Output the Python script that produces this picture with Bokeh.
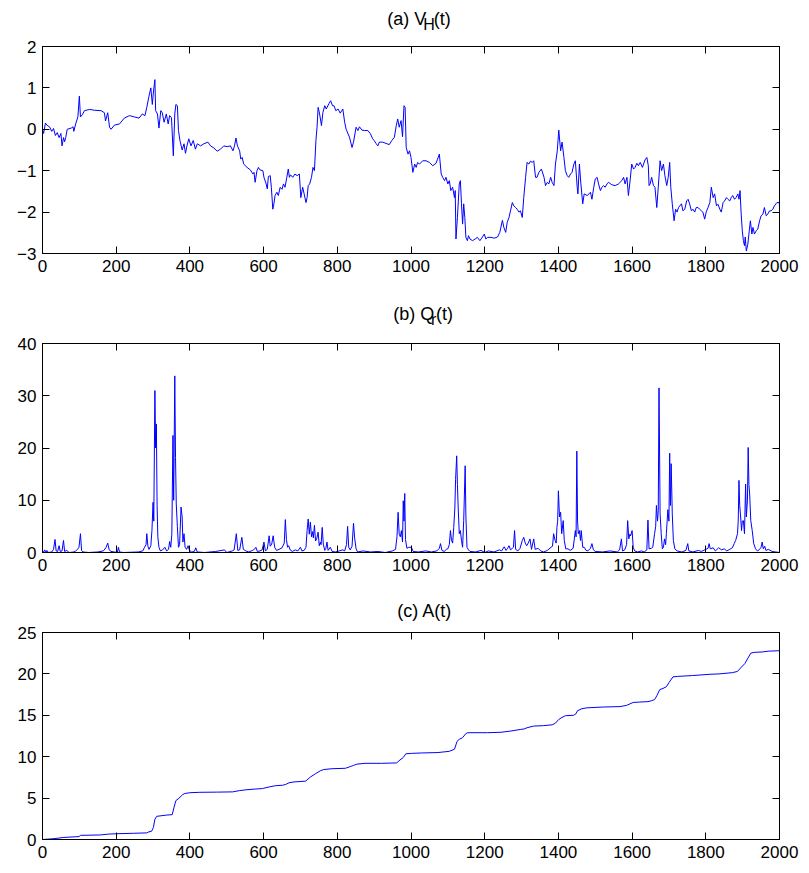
from bokeh.plotting import figure
from bokeh.layouts import column
from bokeh.models import Range1d, LinearAxis, FixedTicker, CustomJSTickFormatter
from bokeh.core.properties import value
from bokeh.embed import file_html
from bokeh.resources import INLINE

# ---------------- data ----------------
X_TICKS = [0, 200, 400, 600, 800, 1000, 1200, 1400, 1600, 1800, 2000]

VH_TICKS = [-3, -2, -1, 0, 1, 2]
QR_TICKS = [0, 10, 20, 30, 40]
A_TICKS = [0, 5, 10, 15, 20, 25]

VH_T = [
    0, 3, 8, 12, 20, 25, 30, 35, 40, 45,
    50, 53, 57, 60, 63, 67, 78, 83, 85, 90,
    96, 100, 103, 108, 114, 128, 141, 159, 168, 171,
    177, 182, 186, 195, 209, 222, 236, 249, 262, 271,
    278, 283, 289, 294, 298, 301, 305, 307, 312, 316,
    321, 325, 330, 336, 341, 345, 350, 355, 359, 362,
    366, 369, 373, 379, 384, 388, 392, 397, 403, 409,
    415, 420, 429, 438, 449, 456, 465, 474, 483, 492,
    501, 510, 517, 521, 525, 529, 535, 538, 542, 546,
    555, 564, 571, 574, 577, 582, 586, 590, 598, 601,
    607, 610, 613, 618, 621, 625, 628, 631, 636, 640,
    645, 650, 654, 658, 663, 667, 670, 673, 679, 685,
    691, 697, 701, 706, 710, 715, 718, 721, 725, 730,
    734, 738, 742, 745, 748, 752, 757, 761, 766, 770,
    778, 782, 787, 791, 796, 802, 808, 815, 820, 824,
    833, 840, 844, 851, 856, 860, 867, 874, 883, 890,
    896, 900, 905, 910, 914, 923, 932, 941, 948, 955,
    960, 964, 968, 973, 977, 981, 984, 987, 992, 996,
    1000, 1005, 1010, 1014, 1018, 1023, 1032, 1041, 1050, 1059,
    1068, 1072, 1077, 1082, 1086, 1091, 1095, 1100, 1104, 1108,
    1113, 1118, 1120, 1122, 1126, 1131, 1134, 1137, 1140, 1143,
    1146, 1149, 1153, 1156, 1160, 1167, 1174, 1180, 1187, 1194,
    1199, 1203, 1208, 1217, 1226, 1235, 1241, 1248, 1252, 1257,
    1261, 1266, 1270, 1275, 1279, 1284, 1288, 1293, 1297, 1302,
    1306, 1311, 1315, 1320, 1324, 1329, 1333, 1338, 1342, 1347,
    1354, 1361, 1365, 1370, 1374, 1379, 1383, 1388, 1392, 1397,
    1401, 1406, 1410, 1415, 1419, 1424, 1428, 1433, 1437, 1442,
    1446, 1451, 1453, 1457, 1461, 1466, 1470, 1478, 1483, 1487,
    1491, 1496, 1500, 1505, 1509, 1514, 1518, 1523, 1527, 1532,
    1536, 1545, 1554, 1563, 1572, 1577, 1581, 1586, 1590, 1595,
    1599, 1604, 1608, 1613, 1617, 1622, 1628, 1635, 1640, 1644,
    1646, 1649, 1653, 1658, 1662, 1667, 1671, 1676, 1680, 1685,
    1689, 1694, 1698, 1702, 1705, 1709, 1714, 1718, 1722, 1726,
    1734, 1738, 1743, 1748, 1752, 1756, 1761, 1765, 1770, 1774,
    1779, 1783, 1788, 1792, 1797, 1801, 1806, 1811, 1815, 1820,
    1824, 1829, 1833, 1838, 1842, 1847, 1851, 1856, 1860, 1865,
    1869, 1873, 1878, 1882, 1887, 1890, 1893, 1896, 1899, 1902,
    1905, 1907, 1910, 1914, 1918, 1921, 1925, 1928, 1932, 1937,
    1941, 1946, 1950, 1955, 1959, 1964, 1968, 1973, 1977, 1982,
    1986, 1993, 1999, 2000,
]
VH_V = [
    0.0, -0.1, 0.15, 0.1, 0.05, -0.05, 0.02, -0.15, -0.08, -0.2,
    -0.1, -0.4, -0.2, -0.3, -0.2, 0.0, 0.03, 0.06, -0.05, 0.13,
    0.3, 0.8, 0.3, 0.35, 0.45, 0.48, 0.46, 0.45, 0.4, 0.2,
    0.4, 0.05, 0.0, 0.1, 0.13, 0.27, 0.33, 0.3, 0.27, 0.37,
    0.33, 0.53, 0.8, 1.0, 0.6, 0.9, 1.2, 0.45, 0.37, 0.03,
    0.45, 0.4, 0.17, 0.37, 0.13, 0.33, 0.28, -0.64, 0.37, 0.6,
    0.57, -0.03, -0.27, -0.5, -0.35, -0.58, -0.4, -0.23, -0.4, -0.27,
    -0.48, -0.35, -0.4, -0.35, -0.31, -0.4, -0.45, -0.53, -0.48, -0.4,
    -0.42, -0.4, -0.52, -0.4, -0.21, -0.4, -0.52, -0.72, -0.68, -0.84,
    -0.92, -0.98, -1.08, -1.04, -1.28, -1.0, -0.92, -0.98, -1.0, -1.16,
    -1.32, -1.44, -1.14, -1.12, -1.4, -1.93, -1.8, -1.6, -1.52, -1.6,
    -1.4, -1.45, -1.32, -1.4, -1.16, -0.96, -1.16, -1.1, -1.16, -1.08,
    -1.12, -1.08, -1.65, -1.4, -1.56, -1.77, -1.65, -1.36, -1.32, -1.16,
    -0.92, -1.0, -0.27, 0.05, 0.53, 0.37, 0.09, 0.41, 0.57, 0.49,
    0.63, 0.69, 0.57, 0.57, 0.45, 0.49, 0.39, 0.49, 0.17, 0.0,
    -0.19, -0.44, -0.31, 0.05, -0.03, 0.06, -0.02, -0.03, -0.03, -0.11,
    -0.23, -0.27, -0.34, -0.4, -0.31, -0.31, -0.34, -0.37, -0.27, -0.19,
    0.09, 0.25, 0.05, 0.21, -0.18, 0.57, 0.53, -0.44, -0.6, -0.52,
    -0.68, -1.04, -0.84, -0.92, -0.8, -0.84, -0.76, -0.76, -0.8, -0.88,
    -0.82, -0.72, -0.6, -1.08, -1.16, -1.24, -1.16, -1.32, -1.24, -1.48,
    -1.4, -1.65, -1.48, -2.65, -2.13, -1.32, -1.24, -1.8, -2.29, -1.8,
    -2.13, -2.61, -2.69, -2.57, -2.65, -2.69, -2.65, -2.61, -2.69, -2.6,
    -2.53, -2.65, -2.61, -2.61, -2.63, -2.6, -2.49, -2.2, -2.37, -2.49,
    -2.25, -2.13, -1.97, -1.77, -1.85, -1.89, -1.93, -2.0, -1.97, -2.13,
    -1.65, -1.16, -0.8, -0.84, -0.77, -0.8, -0.76, -1.16, -1.16, -1.04,
    -0.96, -1.16, -1.36, -1.28, -1.32, -1.16, -1.28, -1.36, -0.84, -0.52,
    -0.02, -0.52, -0.31, -0.68, -1.0, -1.12, -1.16, -1.08, -1.04, -0.84,
    -0.76, -1.4, -1.56, -0.84, -1.32, -1.8, -1.56, -1.6, -1.56, -1.52,
    -1.69, -1.4, -1.2, -1.16, -1.32, -1.48, -1.4, -1.36, -1.4, -1.32,
    -1.28, -1.34, -1.36, -1.32, -1.24, -1.16, -1.32, -1.16, -1.6, -1.2,
    -0.84, -0.96, -0.92, -0.82, -0.88, -0.8, -0.92, -0.74, -0.68, -0.88,
    -1.36, -1.32, -1.16, -1.36, -1.4, -1.89, -1.4, -0.76, -1.0, -0.84,
    -1.12, -1.36, -1.16, -0.8, -1.4, -1.8, -2.21, -1.93, -2.0, -1.89,
    -1.8, -1.97, -1.93, -1.73, -1.69, -1.8, -1.97, -1.93, -2.0, -1.89,
    -1.89, -1.93, -1.97, -2.0, -2.17, -2.0, -1.89, -1.77, -1.4, -1.65,
    -1.56, -1.85, -1.81, -1.93, -2.0, -1.77, -1.73, -1.65, -1.69, -1.73,
    -1.65, -1.6, -1.69, -1.65, -1.56, -1.69, -1.48, -2.05, -2.45, -2.69,
    -2.81, -2.6, -2.94, -2.78, -2.45, -2.21, -2.53, -2.37, -2.53, -2.45,
    -2.41, -2.21, -2.09, -2.05, -1.89, -2.09, -2.05, -1.97, -1.97, -1.93,
    -1.85, -1.77, -1.77, -1.85,
]

QR_T = [
    0, 3, 6, 9, 12, 16, 25, 30, 34, 37,
    41, 45, 48, 53, 57, 60, 66, 72, 85, 90,
    95, 99, 103, 106, 110, 125, 150, 165, 172, 177,
    181, 186, 195, 203, 206, 209, 220, 260, 272, 277,
    281, 283, 286, 289, 294, 297, 300, 302, 305, 307,
    309, 311, 313, 316, 320, 326, 332, 337, 342, 345,
    348, 351, 354, 356, 359, 361, 363, 366, 369, 372,
    376, 379, 381, 384, 387, 391, 395, 399, 405, 412,
    416, 420, 440, 470, 494, 500, 515, 520, 526, 530,
    535, 541, 545, 552, 560, 570, 575, 579, 583, 590,
    596, 601, 605, 610, 615, 618, 622, 626, 630, 635,
    642, 650, 656, 659, 662, 665, 668, 672, 678, 686,
    693, 700, 704, 710, 715, 718, 721, 724, 727, 730,
    733, 735, 738, 741, 744, 748, 751, 754, 756, 759,
    762, 766, 769, 772, 775, 781, 786, 795, 805, 815,
    820, 825, 828, 831, 835, 840, 844, 847, 851, 855,
    870, 890, 910, 930, 950, 958, 962, 965, 968, 971,
    974, 977, 979, 981, 983, 985, 989, 994, 1001, 1006,
    1020, 1040, 1055, 1070, 1077, 1080, 1084, 1090, 1096, 1100,
    1104, 1107, 1110, 1113, 1116, 1119, 1121, 1124, 1126, 1128,
    1131, 1134, 1137, 1140, 1143, 1147, 1149, 1152, 1156, 1160,
    1175, 1190, 1200, 1210, 1225, 1240, 1246, 1253, 1258, 1262,
    1266, 1270, 1275, 1278, 1281, 1284, 1290, 1296, 1302, 1306,
    1310, 1314, 1318, 1323, 1327, 1333, 1337, 1345, 1352, 1360,
    1370, 1380, 1384, 1387, 1391, 1394, 1396, 1398, 1400, 1403,
    1406, 1409, 1413, 1416, 1420, 1426, 1432, 1440, 1446, 1448,
    1450, 1452, 1454, 1457, 1460, 1462, 1466, 1470, 1475, 1480,
    1487, 1491, 1495, 1500, 1520, 1540, 1560, 1566, 1571, 1574,
    1580, 1585, 1588, 1591, 1594, 1596, 1600, 1603, 1607, 1615,
    1625, 1633, 1640, 1643, 1646, 1652, 1656, 1661, 1664, 1666,
    1669, 1671, 1673, 1676, 1679, 1682, 1685, 1688, 1691, 1693,
    1697, 1700, 1702, 1704, 1706, 1709, 1712, 1716, 1722, 1735,
    1746, 1751, 1754, 1765, 1780, 1788, 1800, 1806, 1809, 1812,
    1820, 1826, 1835, 1843, 1850, 1857, 1865, 1872, 1877, 1881,
    1886, 1888, 1890, 1892, 1894, 1897, 1899, 1902, 1905, 1908,
    1910, 1913, 1915, 1917, 1919, 1922, 1926, 1930, 1935, 1940,
    1946, 1950, 1953, 1956, 1960, 1963, 1970, 1980, 1990, 2000,
]
QR_V = [
    0.3, 0.1, 0.5, 0.0, 0.4, 0.0, 0.1, 0.6, 2.5, 0.3,
    0.2, 1.3, 0.2, 0.3, 2.3, 0.2, 0.4, 0.0, 0.1, 0.3,
    0.6, 1.0, 3.6, 0.4, 0.1, 0.0, 0.1, 0.3, 0.9, 1.8,
    0.5, 0.2, 0.1, 0.0, 1.0, 0.1, 0.0, 0.1, 0.3, 1.0,
    1.5, 3.6, 1.2, 0.6, 1.3, 4.2, 9.6, 6.0, 31.0, 20.0,
    24.6, 9.0, 3.0, 1.0, 0.3, 0.5, 1.0, 0.3, 0.6, 2.1,
    1.0, 3.5, 22.4, 10.0, 33.8, 18.2, 9.3, 5.0, 1.0, 1.5,
    8.7, 6.8, 2.0, 3.6, 1.0, 0.6, 1.3, 0.4, 0.1, 0.2,
    0.9, 0.1, 0.0, 0.2, 0.5, 0.0, 0.3, 0.5, 3.6, 0.4,
    0.5, 2.9, 0.6, 0.3, 0.1, 0.4, 0.6, 1.0, 0.2, 0.3,
    0.5, 2.0, 0.3, 0.6, 3.2, 1.2, 1.6, 3.2, 1.0, 0.4,
    0.6, 0.9, 1.8, 6.3, 2.5, 1.0, 1.3, 0.5, 0.2, 0.5,
    0.3, 1.0, 0.3, 0.4, 1.0, 4.2, 6.4, 3.5, 5.8, 3.0,
    4.0, 2.8, 5.2, 2.2, 2.6, 3.9, 1.3, 2.0, 1.5, 4.8,
    1.6, 0.4, 0.8, 2.0, 0.4, 1.0, 0.2, 0.1, 0.3, 0.5,
    0.3, 1.5, 5.0, 1.0, 0.5, 1.2, 5.6, 2.8, 0.7, 0.1,
    0.3, 0.1, 0.2, 0.0, 0.3, 0.6, 3.0, 7.7, 3.5, 3.0,
    4.2, 2.0, 9.9, 6.0, 11.3, 2.5, 0.8, 1.0, 1.0, 0.2,
    0.1, 0.3, 0.1, 0.3, 0.8, 1.7, 0.4, 0.2, 0.6, 0.7,
    1.5, 4.2, 2.3, 1.8, 4.8, 8.5, 14.0, 18.5, 13.0, 8.7,
    3.6, 4.2, 2.3, 1.0, 6.1, 16.6, 6.8, 1.0, 0.5, 0.2,
    0.1, 0.4, 0.0, 0.3, 0.1, 0.5, 0.3, 1.1, 0.4, 0.8,
    1.3, 0.5, 0.8, 1.0, 4.2, 0.6, 0.3, 0.8, 2.3, 2.9,
    1.8, 1.3, 1.8, 2.6, 0.6, 2.6, 0.6, 0.8, 0.3, 0.1,
    0.4, 1.0, 1.2, 3.6, 2.3, 1.8, 4.8, 6.0, 11.8, 6.8,
    7.7, 3.6, 6.1, 2.3, 0.7, 0.7, 0.4, 0.8, 4.2, 3.0,
    19.4, 6.0, 3.6, 4.2, 2.3, 4.2, 1.0, 1.0, 0.4, 0.3,
    0.8, 1.7, 0.5, 0.2, 0.1, 0.3, 0.1, 0.5, 2.6, 0.3,
    0.5, 1.5, 6.1, 2.6, 3.5, 3.2, 4.2, 1.0, 0.3, 0.1,
    0.3, 0.1, 0.5, 6.2, 0.7, 0.8, 1.0, 3.6, 5.0, 9.0,
    6.0, 8.0, 31.5, 7.4, 3.6, 0.7, 1.0, 2.6, 1.5, 3.6,
    8.2, 6.0, 19.0, 9.0, 17.0, 7.4, 2.3, 0.7, 0.3, 0.1,
    0.4, 1.7, 0.3, 0.1, 0.4, 0.2, 0.6, 0.8, 1.7, 0.7,
    0.9, 0.3, 0.9, 0.5, 0.7, 0.3, 0.6, 0.9, 1.7, 2.3,
    3.6, 6.0, 13.8, 9.0, 7.4, 4.2, 6.0, 6.1, 3.6, 13.1,
    6.8, 10.0, 20.1, 13.0, 11.2, 6.1, 4.2, 1.7, 0.7, 0.3,
    0.6, 1.0, 2.0, 0.7, 1.2, 0.4, 0.6, 0.2, 0.1, 0.0,
]

A_T = [
    0, 31, 58, 99, 103, 157, 179, 202, 247, 283,
    287, 296, 301, 305, 310, 319, 337, 352, 357, 362,
    368, 373, 380, 386, 400, 427, 472, 516, 534, 552,
    579, 597, 615, 633, 651, 660, 669, 682, 714, 718,
    727, 741, 754, 763, 786, 822, 835, 844, 853, 875,
    920, 961, 970, 979, 986, 1001, 1028, 1073, 1104, 1118,
    1125, 1131, 1140, 1149, 1154, 1208, 1244, 1271, 1298, 1307,
    1315, 1333, 1360, 1383, 1392, 1401, 1410, 1419, 1441, 1447,
    1452, 1464, 1477, 1522, 1567, 1585, 1603, 1621, 1643, 1652,
    1661, 1667, 1675, 1684, 1693, 1700, 1711, 1724, 1764, 1809,
    1836, 1872, 1886, 1895, 1906, 1913, 1922, 1931, 1953, 1971,
    2000,
]
A_V = [
    0.0, 0.1, 0.25, 0.35, 0.5, 0.55, 0.65, 0.7, 0.75, 0.8,
    0.9, 1.0, 1.45, 2.45, 2.8, 2.85, 2.95, 3.0, 3.9, 4.7,
    4.9, 5.1, 5.4, 5.55, 5.65, 5.7, 5.72, 5.75, 5.9, 6.0,
    6.1, 6.15, 6.35, 6.5, 6.55, 6.65, 6.85, 6.95, 7.05, 7.2,
    7.55, 7.95, 8.3, 8.45, 8.55, 8.6, 8.8, 8.95, 9.1, 9.2,
    9.2, 9.25, 9.6, 9.9, 10.35, 10.4, 10.45, 10.5, 10.65, 10.9,
    11.85, 12.1, 12.3, 12.8, 12.9, 12.9, 12.95, 13.1, 13.3, 13.35,
    13.5, 13.7, 13.75, 13.85, 14.05, 14.5, 14.75, 14.95, 15.0, 15.15,
    15.55, 15.8, 15.9, 16.0, 16.05, 16.2, 16.55, 16.6, 16.65, 16.75,
    16.9, 17.35, 18.1, 18.25, 18.45, 18.95, 19.65, 19.7, 19.8, 19.95,
    20.0, 20.15, 20.3, 20.75, 21.25, 21.8, 22.5, 22.6, 22.65, 22.75,
    22.8,
]

TITLE_A = [("(a) V", "main"), ("H", "sub"), ("(t)", "main")]
TITLE_B = [("(b) Q", "main"), ("r", "sub"), ("(t)", "main")]
TITLE_C = [("(c) A(t)", "main")]

# ---------------- styling ----------------
FONT = "Liberation Sans"
FS = 17          # tick label size (px)
TITLE_FS = 18    # title size (px)
SUB_FS = 16      # subscript size (px)
SUB_DROP = 6     # subscript baseline drop (px)
BLUE = "#0000ff"
FIG_W = 801

# Arial/Liberation Sans advance widths (per 1000 em)
ADV = {"(": 333, ")": 333, " ": 278, "a": 556, "b": 556, "c": 500, "t": 278,
       "r": 333, "V": 667, "H": 722, "Q": 778, "A": 667}


def text_w(s, size):
    return sum(ADV.get(ch, 556) for ch in s) * size / 1000.0


def fmt(v):
    return ("\u2212" + str(abs(v))) if v < 0 else str(v)


def style_axis(ax, ticks, show_labels):
    ax.ticker = FixedTicker(ticks=ticks)
    ax.major_tick_in = 7
    ax.major_tick_out = 0
    ax.minor_tick_in = 0
    ax.minor_tick_out = 0
    ax.axis_line_color = "black"
    ax.axis_line_width = 1
    ax.major_tick_line_color = "black"
    ax.major_tick_line_width = 1
    ax.major_label_text_font = FONT
    ax.major_label_text_color = "black"
    if show_labels:
        ax.major_label_standoff = 6
        ax.major_label_text_font_size = f"{FS}px"
        ax.major_label_overrides = {t: fmt(t) for t in ticks}
    else:
        ax.major_label_standoff = 0
        ax.major_label_text_font_size = "0px"
        ax.formatter = CustomJSTickFormatter(code="return ''")


def title_strip(height, center_x, baseline_from_top, parts):
    s = figure(width=FIG_W, height=height,
               x_range=Range1d(0, FIG_W), y_range=Range1d(0, height),
               output_backend="svg", toolbar_location=None,
               x_axis_location=None, y_axis_location=None,
               min_border=0, min_border_left=0, min_border_right=0,
               min_border_top=0, min_border_bottom=0)
    s.outline_line_color = None
    s.grid.visible = False
    s.background_fill_color = "white"
    s.border_fill_color = "white"
    total = sum(text_w(t, TITLE_FS if k == "main" else SUB_FS) for t, k in parts)
    x = center_x - total / 2.0
    base = height - baseline_from_top
    for t, k in parts:
        size = TITLE_FS if k == "main" else SUB_FS
        y = base if k == "main" else base - SUB_DROP
        s.text(x=[x], y=[y], text=[t], text_font=value(FONT),
               text_font_size=value(f"{size}px"), text_color="black",
               text_align="left", text_baseline="alphabetic")
        x += text_w(t, size)
    return s


def panel(t, v, yr, yticks, height, mb_l, frame_w, mb_t, mb_b):
    p = figure(width=FIG_W, height=height,
               x_range=Range1d(0, 2000), y_range=Range1d(yr[0], yr[1]),
               output_backend="svg", toolbar_location=None,
               min_border_left=mb_l, min_border_right=FIG_W - mb_l - frame_w,
               min_border_top=mb_t, min_border_bottom=mb_b)
    p.background_fill_color = "white"
    p.border_fill_color = "white"
    p.outline_line_color = "black"
    p.outline_line_width = 1
    p.xgrid.visible = False
    p.ygrid.visible = False
    p.line(t, v, line_color=BLUE, line_width=1)

    style_axis(p.xaxis[0], X_TICKS, True)
    style_axis(p.yaxis[0], yticks, True)
    top = LinearAxis()
    style_axis(top, X_TICKS, False)
    p.add_layout(top, "above")
    right = LinearAxis()
    style_axis(right, yticks, False)
    p.add_layout(right, "right")
    return p


# page rows: strip a 0-35 | plot a 35-293 (frame 46-253) | strip b 293-332 |
# plot b 332-592 (frame 343-552) | strip c 592-622 | plot c 622-869 (frame 632-839)
sa = title_strip(35, (38 + 779) / 2.0, 18, TITLE_A)
pa = panel(VH_T, VH_V, (-3, 2), VH_TICKS, 258, 38, 741, 11, 40)
sb = title_strip(39, (42 + 784) / 2.0, 20, TITLE_B)
pb = panel(QR_T, QR_V, (0, 40), QR_TICKS, 260, 42, 742, 11, 40)
sc = title_strip(30, (42 + 784) / 2.0, 18, TITLE_C)
pc = panel(A_T, A_V, (0, 25), A_TICKS, 247, 42, 742, 10, 30)

layout = column(sa, pa, sb, pb, sc, pc, spacing=0)
open("out.html", "w").write(file_html(layout, INLINE))
